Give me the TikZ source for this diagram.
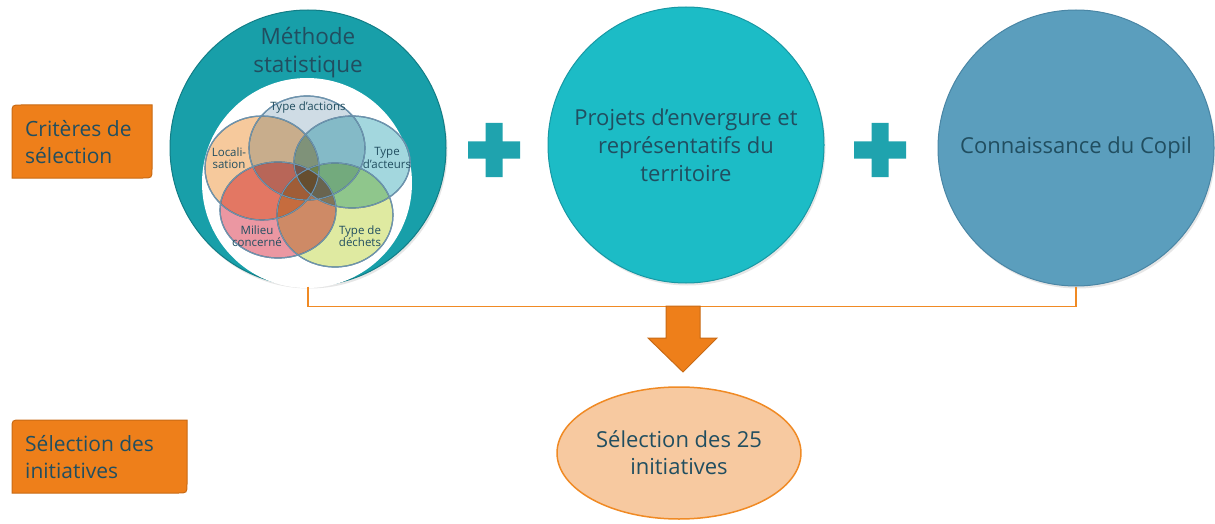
\documentclass[tikz,border=0pt]{standalone}
\usepackage{fontspec}
\setmainfont{Open Sans}
\usetikzlibrary{calc, shapes.geometric, shadows}

\definecolor{statfill}{HTML}{189FA9}
\definecolor{statline}{HTML}{127D86}
\definecolor{projfill}{HTML}{1CBCC6}
\definecolor{projline}{HTML}{1898A4}
\definecolor{copilfill}{HTML}{5B9EBD}
\definecolor{copilline}{HTML}{4A86A5}
\definecolor{plusteal}{HTML}{1FA3AE}
\definecolor{txtdark}{HTML}{214E60}
\definecolor{orangebox}{HTML}{EE7F1A}
\definecolor{orangeline}{HTML}{C86A14}
\definecolor{orangebracket}{HTML}{F08A24}
\definecolor{peach}{HTML}{F7C9A0}
\definecolor{vennline}{HTML}{6E93AD}
\definecolor{vactions}{HTML}{B3C8D6}
\definecolor{vlocal}{HTML}{F2A860}
\definecolor{vacteurs}{HTML}{6CC0CA}
\definecolor{vmilieu}{HTML}{E0586A}
\definecolor{vdechets}{HTML}{CCDE68}

\tikzset{
  bigcircle/.style={circle, minimum size=276pt, inner sep=0pt, line width=1pt,
    align=center, text=txtdark, font=\fontsize{22}{28}\selectfont,
    drop shadow={shadow xshift=1.5pt, shadow yshift=-2.5pt, opacity=0.2}},
  venn/.style={draw=vennline, line width=1.2pt, fill opacity=0.62},
  vennlabel/.style={font=\fontsize{11.5}{12.5}\selectfont, text=txtdark, align=center, inner sep=0pt},
  tagbox/.style={fill=orangebox, draw=orangeline, line width=1pt},
  tagtext/.style={anchor=west, align=left, inner sep=0pt, text=txtdark, font=\fontsize{21}{27}\selectfont},
  bracket/.style={draw=orangebracket, line width=1.5pt},
  plussign/.style={fill=plusteal}
}

\begin{document}
\begin{tikzpicture}[x=1pt, y=-1pt]
\useasboundingbox (0,0) rectangle (1215,524);

% three criteria circles
\node[bigcircle, fill=statfill, draw=statline] (stat) at (308,148) {};
\node[bigcircle, fill=projfill, draw=projline] (proj) at (686,145)
  {Projets d'envergure et\\représentatifs du\\territoire};
\node[bigcircle, fill=copilfill, draw=copilline] (copil) at (1076,148) {Connaissance du Copil};

\node[text=txtdark, align=center, font=\fontsize{22.5}{28}\selectfont, inner sep=0pt] (stattitle) at (308,53)
  {Méthode\\statistique};
\fill[white] (307,183) circle (105);

% venn diagram
\begin{scope}[blend group=multiply]
\fill[venn, fill=vactions] (307,148) ellipse [x radius=58, y radius=52];
\fill[venn, fill=vlocal] (262,168) ellipse [x radius=57, y radius=52];
\fill[venn, fill=vacteurs] (352,162) ellipse [x radius=58, y radius=46];
\fill[venn, fill=vmilieu] (278,210) ellipse [x radius=58, y radius=48];
\fill[venn, fill=vdechets] (335,215) ellipse [x radius=58, y radius=52];
\end{scope}
\draw[vennline, line width=1.2pt] (307,148) ellipse [x radius=58, y radius=52]
  (262,168) ellipse [x radius=57, y radius=52] (352,162) ellipse [x radius=58, y radius=46]
  (278,210) ellipse [x radius=58, y radius=48] (335,215) ellipse [x radius=58, y radius=52];

\node[vennlabel] (actions) at (308,108) {Type d'actions};
\node[vennlabel] (local) at (229,158) {Locali-\\sation};
\node[vennlabel] (acteurs) at (387,158) {Type\\d'acteurs};
\node[vennlabel] (milieu) at (257,236) {Milieu\\concerné};
\node[vennlabel] (dechets) at (360,236) {Type de\\déchets};

% plus signs
\foreach \cx in {494,880} % edit here for the plus signs
\fill[plussign, shift={(\cx,150)}] (-26,-8.5) rectangle (26,8.5) (-8.5,-27) rectangle (8.5,27);

% bracket and arrow
\draw[bracket] (stat.south) -- ++(0,20) coordinate (brk) -| (copil.south);
\coordinate (fl) at (683,306);
\filldraw[fill=orangebox, draw=orangeline, line width=1pt]
  ($(fl)+(-17,0)$) -- ($(fl)+(-17,32)$) -- ($(fl)+(-35,32)$) -- ($(fl)+(0,66)$)
  -- ($(fl)+(34,32)$) -- ($(fl)+(17,32)$) -- ($(fl)+(17,0)$) -- cycle;

% result
\node[ellipse, minimum width=242pt, minimum height=132pt, fill=peach, draw=orangebracket,
  line width=1.5pt, align=center, text=txtdark, font=\fontsize{22}{27}\selectfont] (result) at (679,453)
  {Sélection des 25\\initiatives};

% row labels
\filldraw[tagbox] (12,178) -- (12,114) .. controls (12,105) .. (21,105) -- (152,105)
  -- (152,169) .. controls (152,178) .. (143,178) -- cycle;
\node[tagtext] (tagcrit) at (25,142) {Critères de\\sélection};
\filldraw[tagbox] (12,493) -- (12,429) .. controls (12,420) .. (21,420) -- (187,420)
  -- (187,484) .. controls (187,493) .. (178,493) -- cycle;
\node[tagtext] (tagsel) at (25,457) {Sélection des\\initiatives};

\end{tikzpicture}
\end{document}
